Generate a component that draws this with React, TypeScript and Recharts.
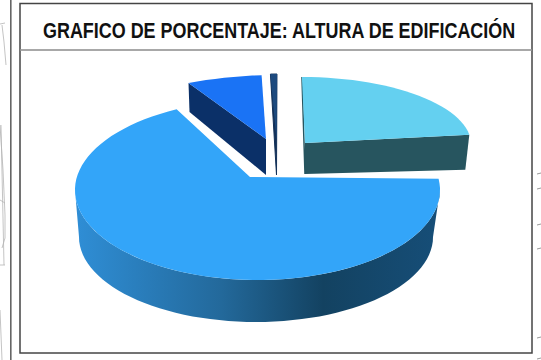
import React from "react";
import { PieChart, Pie } from "recharts";

// no labels in the chart, shares
const categories = ["Nivel A", "Nivel B", "Nivel C", "Nivel D"];
const shares = [6.5, 0.8, 23, 69.7];
const topColors = ["#1a73f5", "#1d4a7e", "#64d0f0", "#33a5f9"];
const wallColors = ["#0b3068", "#123058", "#27555f", "url(#mainWall)"];

const title = "GRAFICO DE PORCENTAJE: ALTURA DE EDIFICACIÓN";

const data = categories.map((name, i) => ({
  name,
  value: shares[i],
  fill: topColors[i],
  wall: wallColors[i],
}));

// the 3d look: how the flat circle of each slice is tilted on the page
type Tilt = {
  apexX: number;
  apexY: number;
  ox: number;
  oy: number;
  a: number;
  b: number;
  c: number;
  d: number;
  apexDrop: number;
  rimDrop: number;
  rimShift: number;
};

const tilts: Record<string, Tilt> = {
  "Nivel A": { apexX: 266, apexY: 139, ox: 266, oy: 139, a: 185, b: 5, c: -3, d: 64, apexDrop: 36, rimDrop: 29, rimShift: 1 },
  "Nivel B": { apexX: 276.5, apexY: 140, ox: 277, oy: 140, a: 130, b: 0, c: 0, d: 66, apexDrop: 35, rimDrop: 30, rimShift: 0 },
  "Nivel C": { apexX: 305, apexY: 143, ox: 305, oy: 143, a: 166, b: -3, c: 0, d: 66, apexDrop: 31, rimDrop: 35, rimShift: -4 },
  "Nivel D": { apexX: 250, apexY: 177, ox: 257.5, oy: 190, a: 182.5, b: 0, c: 0, d: 90, apexDrop: 0, rimDrop: 0, rimShift: 0 },
};

// faint leftovers of the drawing sheet around the chart
const sheetLines = [
  "0,24 5,23",
  "2,25 4,42 6,65",
  "0,125 3,170 5,215 5,238 2,248",
  "0,200 5,203",
  "1,125 4,265",
  "0,265 5,265",
  "0,310 2,360",
];
const sheetTicks = [173, 188, 224, 248, 337, 358];

const rad = (deg: number) => (deg * Math.PI) / 180;

function rim(t: Tilt, theta: number) {
  const s = Math.sin(rad(theta));
  const k = Math.cos(rad(theta));
  return { x: t.ox + t.a * s + t.b * k, y: t.oy + t.c * s - t.d * k };
}

function arcPoints(fn: (th: number) => { x: number; y: number }, from: number, to: number) {
  const out: string[] = [];
  const steps = Math.max(6, Math.ceil(Math.abs(to - from) / 3));
  for (let i = 0; i <= steps; i++) {
    const p = fn(from + ((to - from) * i) / steps);
    out.push(`${p.x.toFixed(1)},${p.y.toFixed(1)}`);
  }
  return out;
}

function Slice3D(props: any) {
  const { startAngle, endAngle, fill, payload } = props;
  const name = payload?.name ?? props.name;
  const t = tilts[name];
  // recharts angles run counter clockwise from 3 o'clock
  const th0 = 90 - startAngle;
  const th1 = 90 - endAngle;
  const top = [`${t.apexX},${t.apexY}`, ...arcPoints((th) => rim(t, th), th0, th1)].join(" ");
  const wall = payload?.wall ?? props.wall;

  if (name === "Nivel D") {
    // round outer wall, only the front half of the disc shows
    const lower = (th: number) => ({
      x: 256 + 177 * Math.sin(rad(th)),
      y: 237 - 85 * Math.cos(rad(th)),
    });
    const wallPts = [
      ...arcPoints((th) => rim(t, th), 90, 270),
      ...arcPoints(lower, 270, 90),
    ].join(" ");
    return (
      <g>
        <polygon points={wallPts} fill={wall} />
        <polygon points={top} fill={fill} />
      </g>
    );
  }

  if (name === "Nivel B") {
    // so thin that it is mostly a dark sliver down to the base
    const left = rim(t, th0);
    const right = rim(t, th1);
    const sliver = `${left.x},${left.y} ${right.x},${right.y} ${t.apexX},${t.apexY + t.apexDrop}`;
    return (
      <g>
        <polygon points={sliver} fill={wall} stroke={wall} strokeWidth={1} />
        <polygon points={top} fill={fill} />
      </g>
    );
  }

  // flat cut face, the one facing the viewer
  const faceTheta = name === "Nivel C" ? th1 : th0;
  const p = rim(t, faceTheta);
  const face = [
    `${t.apexX},${t.apexY}`,
    `${p.x},${p.y}`,
    `${p.x + t.rimShift},${p.y + t.rimDrop}`,
    `${t.apexX},${t.apexY + t.apexDrop}`,
  ].join(" ");
  const back = rim(t, th0);

  return (
    <g>
      <polygon points={face} fill={wall} />
      {name === "Nivel C" && (
        <line x1={back.x} y1={back.y} x2={t.apexX} y2={t.apexY + t.apexDrop} stroke={wall} strokeWidth={1.5} />
      )}
      <polygon points={top} fill={fill} />
    </g>
  );
}

export default function App() {
  return (
    <div style={{ position: "absolute", left: 0, top: 0, width: 541, height: 360, background: "#fff", overflow: "hidden" }}>
      <svg width={541} height={360} style={{ position: "absolute", left: 0, top: 0 }}>
        {sheetLines.map((pts) => (
          <polyline key={pts} points={pts} fill="none" stroke="#b5b5b5" strokeWidth={0.8} />
        ))}
        {sheetTicks.map((y) => (
          <line key={y} x1={537} y1={y + 1} x2={541} y2={y} stroke="#999" strokeWidth={1} />
        ))}
        <rect x={10} y={-2} width={1.6} height={364} fill="#666" />
        <rect x={20} y={3.5} width={512} height={349.5} fill="none" stroke="#444" strokeWidth={1.5} />
        <rect x={20.5} y={49} width={511} height={2} fill="#a8a8a8" />
      </svg>
      <div
        style={{
          position: "absolute",
          left: 43,
          top: 18,
          whiteSpace: "nowrap",
          fontFamily: "'Liberation Sans Narrow', 'Liberation Sans', Arial, sans-serif",
          fontWeight: "bold",
          fontSize: 22,
          lineHeight: "26px",
          color: "#111",
          transform: "scaleX(0.815)",
          transformOrigin: "left center",
        }}
      >
        {title}
      </div>
      <div style={{ position: "absolute", left: 0, top: 0 }}>
        <PieChart width={541} height={360} margin={{ top: 0, right: 0, bottom: 0, left: 0 }}>
          <defs>
            <linearGradient id="mainWall" gradientUnits="userSpaceOnUse" x1="75" y1="0" x2="440" y2="0">
              <stop offset="0" stopColor="#2f8ed6" />
              <stop offset="0.4" stopColor="#23699b" />
              <stop offset="0.68" stopColor="#134261" />
              <stop offset="1" stopColor="#164e78" />
            </linearGradient>
          </defs>
          <Pie
            data={data}
            dataKey="value"
            nameKey="name"
            cx={270}
            cy={180}
            outerRadius={100}
            startAngle={-243.7}
            endAngle={-603.7}
            stroke="none"
            isAnimationActive={false}
            shape={Slice3D}
          />
        </PieChart>
      </div>
    </div>
  );
}
